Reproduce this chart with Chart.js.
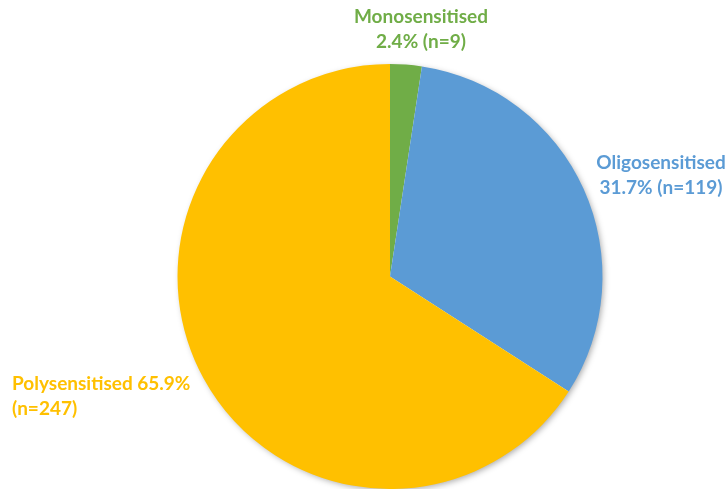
<!DOCTYPE html>
<html lang="en">
<head>
    <meta charset="UTF-8" />
    <title>Sensitisation</title>
    <script src="https://cdn.jsdelivr.net/npm/chart.js"></script>
    <style>
        body { margin: 0; background: #fff; }
        .chart-container { width: 728px; height: 489px; position: relative; }
    </style>
</head>
<body>
    <div class="chart-container">
        <canvas id="pieChart"></canvas>
    </div>

    <script>
        const categories = ['Monosensitised', 'Oligosensitised', 'Polysensitised'];
        const percents = [2.4, 31.7, 65.9];
        const counts = [9, 119, 247];
        const colors = ['#70AD47', '#5B9BD5', '#FFC000'];

        // label lines per slice, positions set by hand like the original
        const labelLines = [
            ['Monosensitised', '2.4% (n=9)'],
            ['Oligosensitised', '31.7% (n=119)'],
            ['Polysensitised 65.9%', '(n=247)']
        ];
        const labelSpots = [
            { x: 421, y: 17, align: 'center' },
            { x: 661, y: 163, align: 'center' },
            { x: 12, y: 384, align: 'left' }
        ];

        // soft shadow under the whole pie, drawn once so slices don't shade each other
        const shadowPlugin = {
            id: 'shadow',
            beforeDatasetsDraw(chart) {
                const arc = chart.getDatasetMeta(0).data[0];
                if (!arc) return;
                const c = chart.ctx;
                c.save();
                c.shadowColor = 'rgba(0,0,0,0.35)';
                c.shadowBlur = 6;
                c.shadowOffsetX = 2;
                c.shadowOffsetY = 2;
                c.fillStyle = '#fff';
                c.beginPath();
                c.arc(arc.x, arc.y, arc.outerRadius - 1, 0, Math.PI * 2);
                c.fill();
                c.restore();
            }
        };

        const labelPlugin = {
            id: 'sliceLabels',
            afterDraw(chart) {
                const c = chart.ctx;
                c.save();
                c.font = 'bold 19px Lato';
                c.textBaseline = 'middle';
                labelLines.forEach((lines, i) => {
                    c.fillStyle = colors[i];
                    c.textAlign = labelSpots[i].align;
                    lines.forEach((t, j) => c.fillText(t, labelSpots[i].x, labelSpots[i].y + j * 25));
                });
                c.restore();
            }
        };

        new Chart(document.getElementById('pieChart'), {
            type: 'pie',
            data: {
                labels: categories,
                datasets: [{
                    data: percents,
                    backgroundColor: colors,
                    borderWidth: 0
                }]
            },
            options: {
                responsive: true,
                maintainAspectRatio: false,
                animation: false,
                layout: { padding: { top: 64, bottom: 0, left: 52, right: 0 } },
                plugins: {
                    legend: { display: false },
                    tooltip: { enabled: false }
                }
            },
            plugins: [shadowPlugin, labelPlugin]
        });
    </script>
</body>
</html>
